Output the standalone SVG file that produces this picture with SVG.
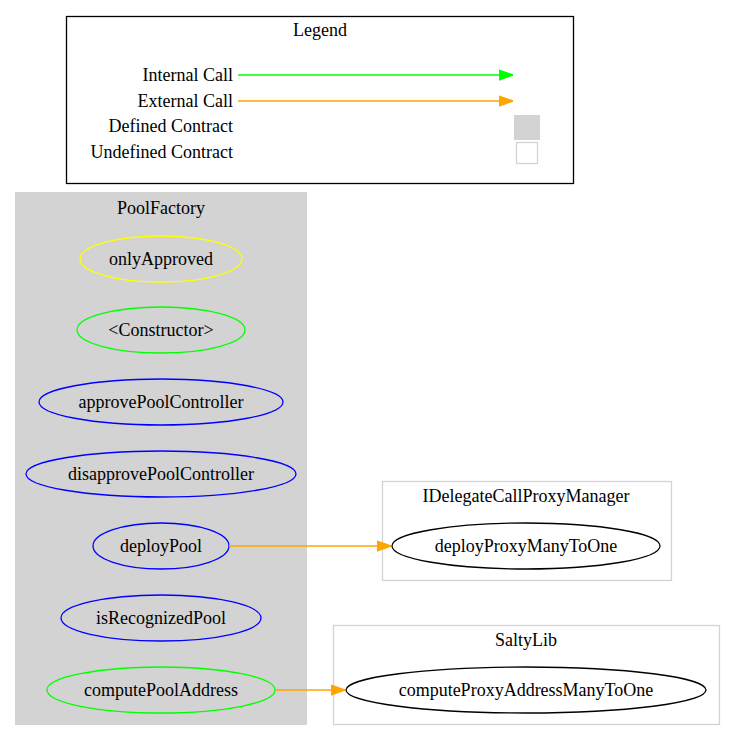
<svg xmlns="http://www.w3.org/2000/svg" width="736" height="741" viewBox="0 0 736 741">
<style>
text{font-family:"Liberation Serif","Times New Roman",serif;font-size:18px;fill:#000}
.c{text-anchor:middle}
.r{text-anchor:end}
.n{fill:none;stroke-width:1.3}
</style>
<defs>
<marker id="ag" viewBox="0 0 10 10" refX="10" refY="5" markerWidth="14" markerHeight="14" markerUnits="userSpaceOnUse" orient="auto"><path d="M0,1.5L10,5L0,8.5z" fill="#00ff00" stroke="#00ff00"/></marker>
<marker id="ao" viewBox="0 0 10 10" refX="10" refY="5" markerWidth="14" markerHeight="14" markerUnits="userSpaceOnUse" orient="auto"><path d="M0,1.5L10,5L0,8.5z" fill="#ffa500" stroke="#ffa500"/></marker>
</defs>
<rect width="736" height="741" fill="#fff"/>
<g id="legend">
<rect x="66.5" y="16.5" width="507" height="167" fill="#fff" stroke="#000" stroke-width="1.3"/>
<text class="c" x="320" y="36">Legend</text>
<text class="r" x="233" y="81">Internal Call</text>
<text class="r" x="233" y="107">External Call</text>
<text class="r" x="233" y="132">Defined Contract</text>
<text class="r" x="233" y="158">Undefined Contract</text>
<rect x="514" y="115" width="26" height="25" fill="#d3d3d3"/>
<rect x="516.5" y="142.5" width="21" height="21" fill="#fff" stroke="#d3d3d3" stroke-width="1.3"/>
</g>
<g id="PoolFactory">
<rect x="15" y="192" width="292" height="533" fill="#d3d3d3"/>
<text class="c" x="161" y="214">PoolFactory</text>
</g>
<g id="onlyApproved"><ellipse class="n" cx="161" cy="259" rx="81" ry="23" stroke="#ffff00"/><text class="c" x="161" y="265">onlyApproved</text></g>
<g id="Constructor"><ellipse class="n" cx="161" cy="330" rx="84" ry="23" stroke="#00ff00"/><text class="c" x="161" y="336">&lt;Constructor&gt;</text></g>
<g id="approvePoolController"><ellipse class="n" cx="161" cy="402" rx="122" ry="23" stroke="#0000ff"/><text class="c" x="161" y="408">approvePoolController</text></g>
<g id="disapprovePoolController"><ellipse class="n" cx="161" cy="474" rx="135" ry="23" stroke="#0000ff"/><text class="c" x="161" y="480">disapprovePoolController</text></g>
<g id="deployPool"><ellipse class="n" cx="161" cy="546" rx="68" ry="23" stroke="#0000ff"/><text class="c" x="161" y="552">deployPool</text></g>
<g id="isRecognizedPool"><ellipse class="n" cx="161" cy="618" rx="100" ry="23" stroke="#0000ff"/><text class="c" x="161" y="624">isRecognizedPool</text></g>
<g id="computePoolAddress"><ellipse class="n" cx="161" cy="690" rx="114" ry="23" stroke="#00ff00"/><text class="c" x="161" y="696">computePoolAddress</text></g>
<g id="IDelegateCallProxyManager">
<rect x="382.5" y="481.5" width="289" height="99" fill="#fff" stroke="#d3d3d3" stroke-width="1.3"/>
<text class="c" x="526" y="502">IDelegateCallProxyManager</text>
</g>
<g id="deployProxyManyToOne"><ellipse class="n" cx="526" cy="546" rx="134" ry="23" stroke="#000"/><text class="c" x="526" y="552">deployProxyManyToOne</text></g>
<g id="SaltyLib">
<rect x="333.5" y="625.5" width="386" height="99" fill="#fff" stroke="#d3d3d3" stroke-width="1.3"/>
<text class="c" x="526" y="646">SaltyLib</text>
</g>
<g id="computeProxyAddressManyToOne"><ellipse class="n" cx="526" cy="690" rx="180" ry="23" stroke="#000"/><text class="c" x="526" y="696">computeProxyAddressManyToOne</text></g>
<g id="connectors" stroke-width="1.3">
<line x1="238" y1="75" x2="513" y2="75" stroke="#00ff00" marker-end="url(#ag)"/>
<line x1="238" y1="101" x2="513" y2="101" stroke="#ffa500" marker-end="url(#ao)"/>
<line x1="229" y1="546" x2="391" y2="546" stroke="#ffa500" marker-end="url(#ao)"/>
<line x1="275" y1="690" x2="345" y2="690" stroke="#ffa500" marker-end="url(#ao)"/>
</g>
</svg>
